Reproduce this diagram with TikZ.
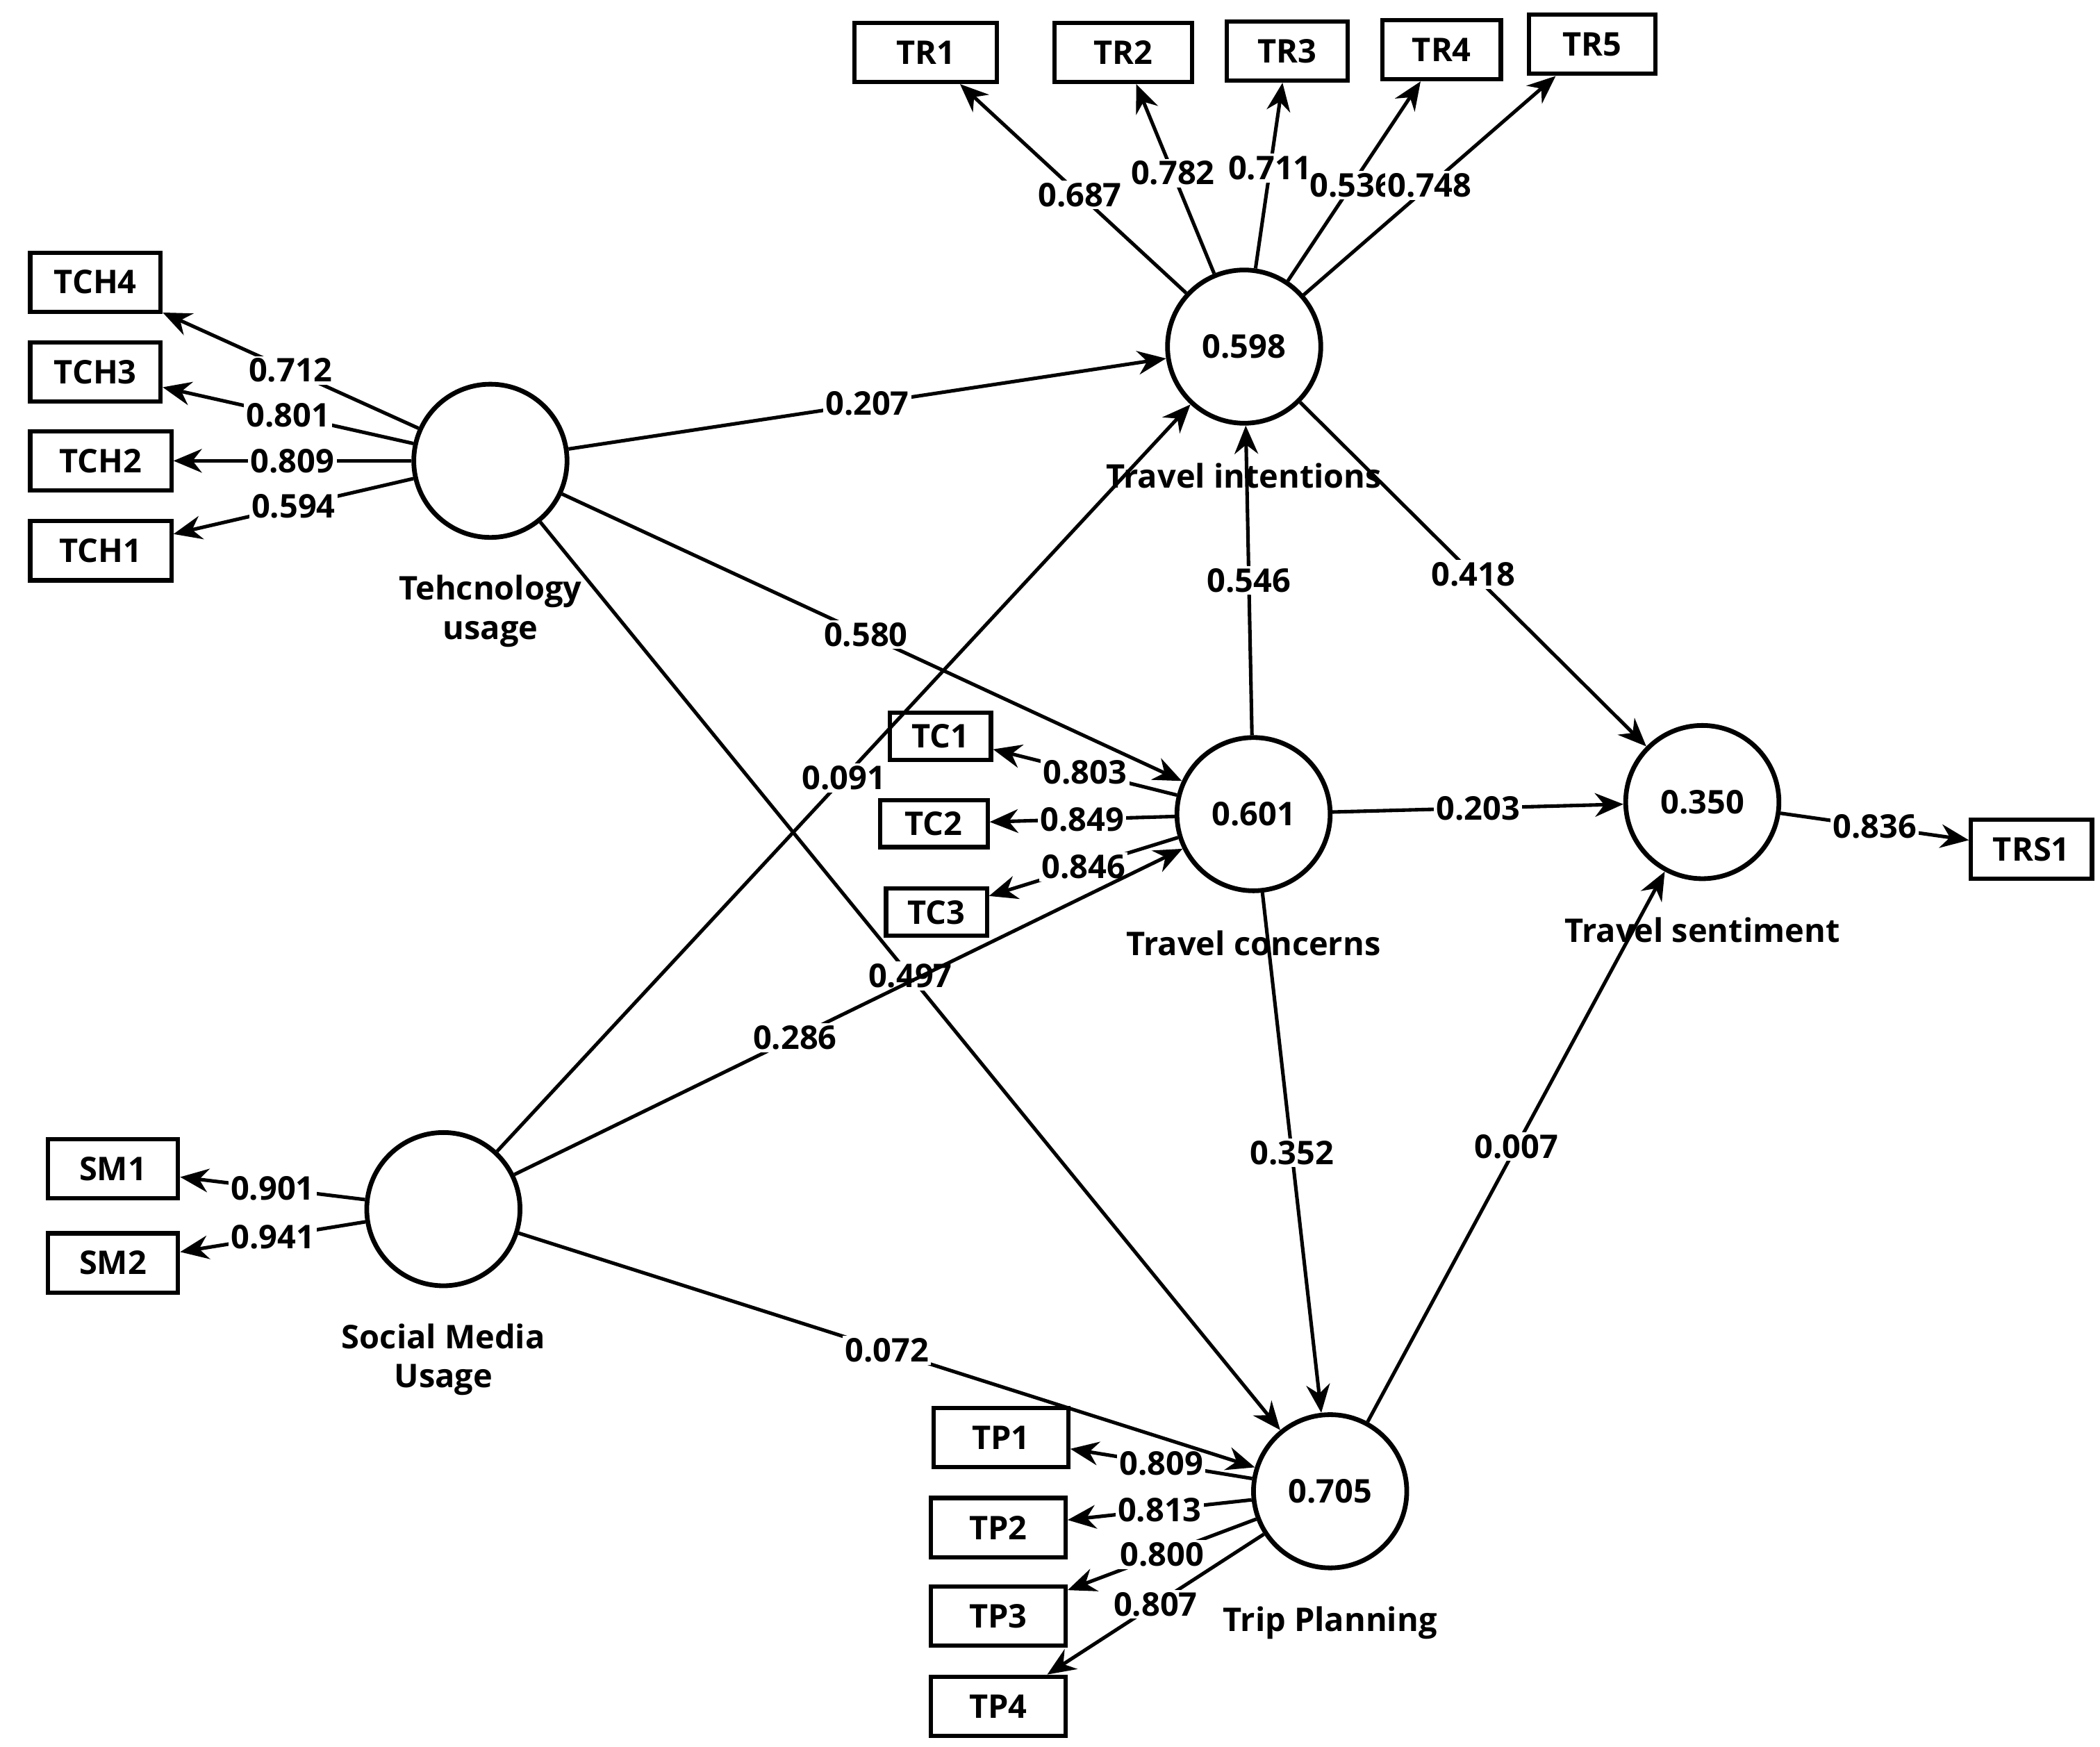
\documentclass[tikz,border=0pt]{standalone}
\usepackage{fontspec}
\setmainfont{Open Sans}
\usetikzlibrary{arrows.meta}
\begin{document}
\begin{tikzpicture}[x=0.01cm,y=-0.01cm,font=\fontsize{6.9}{8.3}\selectfont\bfseries,
 lv/.style={circle,draw,line width=1pt,minimum size=1.14cm,inner sep=0pt},
 ind/.style={draw,line width=0.9pt,minimum height=0.44cm,inner sep=1pt},
 ar/.style={line width=0.75pt,-{Stealth[length=6pt,width=5pt]}},
 lb/.style={fill=white,inner sep=0.5pt},
 lvcap/.style={align=center}]
\useasboundingbox (0,0) rectangle (1563,1300);
\node[lv] (TU) at (365,343) {};
\node[lv] (TI) at (926,258) {0.598};
\node[lv] (TC) at (933,606) {0.601};
\node[lv] (TS) at (1267,597) {0.350};
\node[lv] (TP) at (990,1110) {0.705};
\node[lv] (SM) at (330,900) {};
\node[lvcap] at (365,455) {Tehcnology\\usage};
\node[lvcap] at (926,354) {Travel intentions};
\node[lvcap] at (933,702) {Travel concerns};
\node[lvcap] at (1267,692) {Travel sentiment};
\node[lvcap] at (990,1208) {Trip Planning};
\node[lvcap] at (330,1012) {Social Media\\Usage};
% indicators
\node[ind,minimum width=1.06cm] (TR1) at (689,39) {TR1};
\node[ind,minimum width=1.02cm] (TR2) at (836,39) {TR2};
\node[ind,minimum width=0.90cm] (TR3) at (958,38) {TR3};
\node[ind,minimum width=0.88cm] (TR4) at (1073,37) {TR4};
\node[ind,minimum width=0.94cm] (TR5) at (1185,33) {TR5};
\node[ind,minimum width=0.97cm] (TCH4) at (71,210) {TCH4};
\node[ind,minimum width=0.97cm] (TCH3) at (71,277) {TCH3};
\node[ind,minimum width=1.05cm] (TCH2) at (75,343) {TCH2};
\node[ind,minimum width=1.05cm] (TCH1) at (75,410) {TCH1};
\node[ind,minimum width=0.75cm,minimum height=0.35cm] (TC1) at (700,548) {TC1};
\node[ind,minimum width=0.80cm,minimum height=0.35cm] (TC2) at (695,613) {TC2};
\node[ind,minimum width=0.75cm,minimum height=0.35cm] (TC3) at (697,679) {TC3};
\node[ind,minimum width=0.90cm] (TRS1) at (1512,632) {TRS1};
\node[ind,minimum width=0.97cm] (SM1) at (84,870) {SM1};
\node[ind,minimum width=0.97cm] (SM2) at (84,940) {SM2};
\node[ind,minimum width=1.00cm] (TP1) at (745,1070) {TP1};
\node[ind,minimum width=1.00cm] (TP2) at (743,1137) {TP2};
\node[ind,minimum width=1.00cm] (TP3) at (743,1203) {TP3};
\node[ind,minimum width=1.00cm] (TP4) at (743,1270) {TP4};
% loadings
\draw[ar] (TI) -- node[lb,pos=0.47]{0.687} (TR1);
\draw[ar] (TI) -- node[lb,pos=0.53]{0.782} (TR2);
\draw[ar] (TI) -- node[lb,pos=0.54]{0.711} (TR3);
\draw[ar] (TI) -- node[lb,pos=0.48]{0.536} (TR4);
\draw[ar] (TI) -- node[lb,pos=0.50]{0.748} (TR5);
\draw[ar] (TU) -- node[lb,pos=0.5]{0.712} (TCH4);
\draw[ar] (TU) -- node[lb,pos=0.5]{0.801} (TCH3);
\draw[ar] (TU) -- node[lb,pos=0.5]{0.809} (TCH2);
\draw[ar] (TU) -- node[lb,pos=0.5]{0.594} (TCH1);
\draw[ar] (TC) -- node[lb,pos=0.5]{0.803} (TC1);
\draw[ar] (TC) -- node[lb,pos=0.5]{0.849} (TC2);
\draw[ar] (TC) -- node[lb,pos=0.5]{0.846} (TC3);
\draw[ar] (SM) -- node[lb,pos=0.5]{0.901} (SM1);
\draw[ar] (SM) -- node[lb,pos=0.5]{0.941} (SM2);
\draw[ar] (TP) -- node[lb,pos=0.5]{0.809} (TP1);
\draw[ar] (TP) -- node[lb,pos=0.5]{0.813} (TP2);
\draw[ar] (TP) -- node[lb,pos=0.5]{0.800} (TP3);
\draw[ar] (TP) -- node[lb,pos=0.5]{0.807} (TP4);
\draw[ar] (TS) -- node[lb,pos=0.5]{0.836} (TRS1);
% structural
\draw[ar] (TU) -- node[lb,pos=0.5]{0.207} (TI);
\draw[ar] (TU) -- node[lb,pos=0.49]{0.580} (TC);
\draw[ar] (TU) -- node[lb,pos=0.5]{0.497} (TP);
\draw[ar] (SM) -- node[lb,pos=0.5]{0.091} (TI);
\draw[ar] (SM) -- node[lb,pos=0.42]{0.286} (TC);
\draw[ar] (SM) -- node[lb,pos=0.5]{0.072} (TP);
\draw[ar] (TC) -- node[lb,pos=0.5]{0.546} (TI);
\draw[ar] (TI) -- node[lb,pos=0.5]{0.418} (TS);
\draw[ar] (TC) -- node[lb,pos=0.5]{0.203} (TS);
\draw[ar] (TC) -- node[lb,pos=0.5]{0.352} (TP);
\draw[ar] (TP) -- node[lb,pos=0.5]{0.007} (TS);
\end{tikzpicture}
\end{document}
